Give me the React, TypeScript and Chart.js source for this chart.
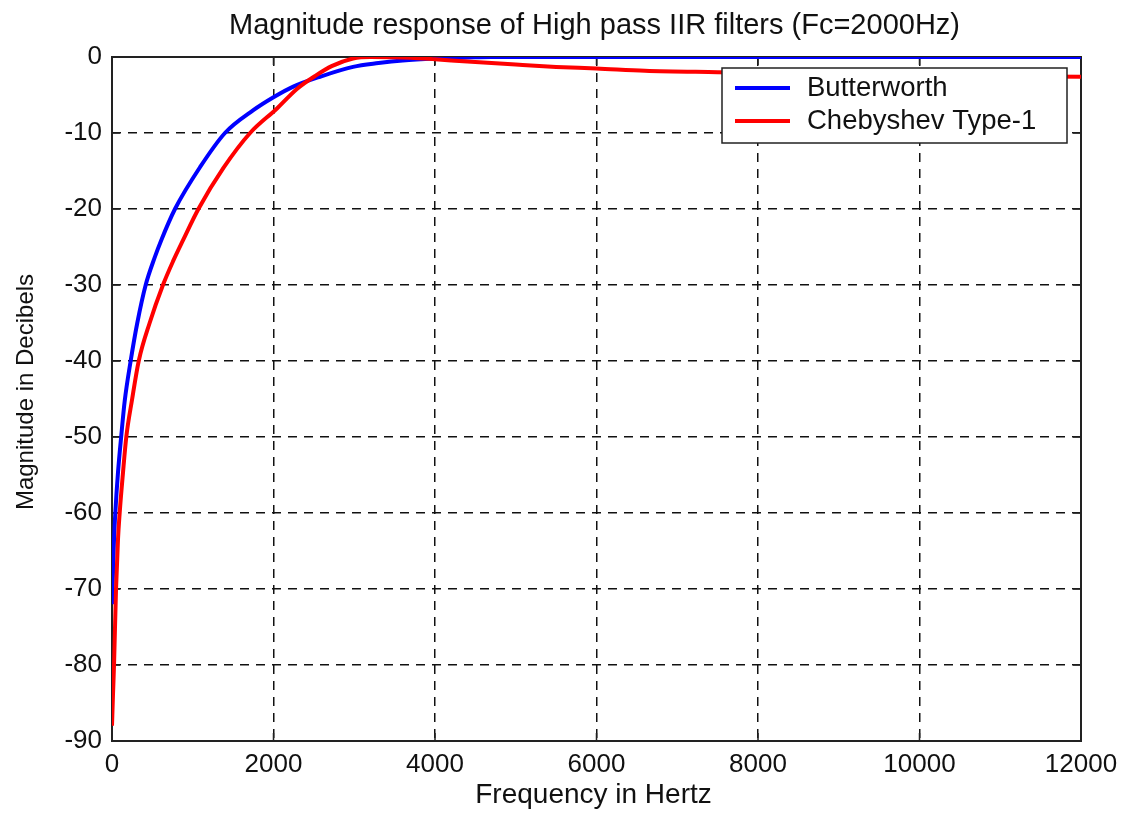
import React, { useEffect, useRef } from "react";
import { Chart, registerables } from "chart.js";

Chart.register(...registerables);

const titleText = "Magnitude response of High pass IIR filters (Fc=2000Hz)";
const xTitle = "Frequency in Hertz";
const yTitle = "Magnitude in Decibels";
const seriesNames = ["Butterworth", "Chebyshev Type-1"];
const seriesColors = ["#0000ff", "#ff0000"];

const xTicks = [0, 2000, 4000, 6000, 8000, 10000, 12000];
const yTicks = [-90, -80, -70, -60, -50, -40, -30, -20, -10, 0];

const butterFreq = [0, 12, 25, 41, 74, 116, 157, 231, 313, 417, 528, 610, 780, 1090, 1399, 1750, 2000, 2245, 2575, 2985, 3300, 3600, 4000, 4400, 4700, 6000, 8000, 10000, 12000];
const butterDb = [-72, -68, -63.5, -60, -54.7, -49.7, -45.3, -40, -35, -30, -26.4, -24.1, -20, -14.5, -10, -7.0, -5.3, -3.9, -2.6, -1.3, -0.8, -0.45, -0.2, -0.07, 0, 0, 0, 0, 0];

const chebyFreq = [0, 12, 25, 50, 74, 95, 136, 177, 248, 331, 466, 631, 755, 880, 1070, 1380, 1710, 2040, 2290, 2515, 2720, 2985, 3200, 3700, 4000, 4400, 5000, 5500, 6000, 6600, 7500, 9000, 10500, 12000];
const chebyDb = [-88, -84, -80, -70, -63.5, -60, -54.7, -50, -45.1, -40, -35, -30, -26.9, -24.1, -20, -14.6, -10, -6.8, -4.2, -2.5, -1.2, -0.2, 0, -0.1, -0.3, -0.6, -1.0, -1.3, -1.5, -1.8, -2.0, -2.3, -2.5, -2.6];

const FONT = "'Liberation Sans', Arial, Helvetica, sans-serif";

const framePlugin = {
  id: "matlabFrame",
  beforeDatasetsDraw(chart: any) {
    const { ctx, chartArea, scales } = chart;
    const { left, right, top, bottom } = chartArea;
    ctx.save();
    ctx.strokeStyle = "#222";
    ctx.lineWidth = 2;
    ctx.strokeRect(left, top, right - left, bottom - top);
    ctx.lineWidth = 1.5;
    ctx.beginPath();
    for (const v of xTicks) {
      const px = scales.x.getPixelForValue(v);
      ctx.moveTo(px, bottom);
      ctx.lineTo(px, bottom - 8);
      ctx.moveTo(px, top);
      ctx.lineTo(px, top + 8);
    }
    for (const v of yTicks) {
      const py = scales.y.getPixelForValue(v);
      ctx.moveTo(left, py);
      ctx.lineTo(left + 8, py);
      ctx.moveTo(right, py);
      ctx.lineTo(right - 8, py);
    }
    ctx.stroke();
    ctx.restore();
  },
  afterDraw(chart: any) {
    const { ctx, chartArea } = chart;
    const { left, right, top, bottom } = chartArea;
    const cx = (left + right) / 2;
    ctx.save();
    ctx.fillStyle = "#111";
    ctx.textAlign = "center";
    ctx.textBaseline = "alphabetic";
    ctx.font = `29px ${FONT}`;
    ctx.fillText(titleText, cx - 2, top - 23);
    ctx.font = `28px ${FONT}`;
    ctx.fillText(xTitle, cx - 3, bottom + 62);
    ctx.save();
    ctx.translate(left - 79, (top + bottom) / 2 - 7);
    ctx.rotate(-Math.PI / 2);
    ctx.font = `24px ${FONT}`;
    ctx.fillText(yTitle, 0, 0);
    ctx.restore();

    // legend
    const bw = 345;
    const bh = 75;
    const bx = right - 14 - bw;
    const by = top + 11;
    ctx.fillStyle = "#ffffff";
    ctx.fillRect(bx, by, bw, bh);
    ctx.strokeStyle = "#222";
    ctx.lineWidth = 1.5;
    ctx.strokeRect(bx, by, bw, bh);
    ctx.font = `27.5px ${FONT}`;
    ctx.textAlign = "left";
    ctx.textBaseline = "middle";
    chart.data.datasets.forEach((ds: any, i: number) => {
      const ly = by + 20 + i * 33;
      ctx.strokeStyle = ds.borderColor;
      ctx.lineWidth = 4;
      ctx.beginPath();
      ctx.moveTo(bx + 13, ly);
      ctx.lineTo(bx + 68, ly);
      ctx.stroke();
      ctx.fillStyle = "#111";
      ctx.fillText(ds.label, bx + 85, ly);
    });
    ctx.restore();
  },
};

export default function App() {
  const canvasRef = useRef<HTMLCanvasElement | null>(null);

  useEffect(() => {
    const canvas = canvasRef.current;
    if (!canvas) return;
    const makePts = (fs: number[], ds: number[]) => fs.map((f, i) => ({ x: f, y: ds[i] }));
    const chart = new Chart(canvas, {
      type: "scatter",
      data: {
        datasets: [
          {
            label: seriesNames[0],
            data: makePts(butterFreq, butterDb),
            borderColor: seriesColors[0],
            backgroundColor: seriesColors[0],
            borderWidth: 4,
            showLine: true,
            pointRadius: 0,
            cubicInterpolationMode: "monotone",
            order: 1,
          },
          {
            label: seriesNames[1],
            data: makePts(chebyFreq, chebyDb),
            borderColor: seriesColors[1],
            backgroundColor: seriesColors[1],
            borderWidth: 4,
            showLine: true,
            pointRadius: 0,
            cubicInterpolationMode: "monotone",
            order: 0,
          },
        ],
      } as any,
      options: {
        responsive: false,
        animation: false,
        devicePixelRatio: 1,
        layout: { padding: { top: 57, right: 46, left: 0, bottom: 0 } },
        plugins: {
          legend: { display: false },
          title: { display: false },
          tooltip: { enabled: false },
        },
        scales: {
          x: {
            type: "linear",
            min: 0,
            max: 12000,
            afterBuildTicks: (s: any) => {
              s.ticks = xTicks.map((v) => ({ value: v }));
            },
            afterFit: (s: any) => {
              s.height = 73;
            },
            ticks: {
              padding: 8,
              color: "#111",
              font: { family: FONT, size: 26 },
              callback: (v: any) => String(v),
              maxRotation: 0,
            },
            grid: { color: "#111", lineWidth: 1.5, drawTicks: false },
            border: { display: false, dash: [9, 7] },
          },
          y: {
            type: "linear",
            min: -90,
            max: 0,
            afterBuildTicks: (s: any) => {
              s.ticks = yTicks.map((v) => ({ value: v }));
            },
            afterFit: (s: any) => {
              s.width = 112;
            },
            ticks: {
              padding: 10,
              color: "#111",
              font: { family: FONT, size: 26 },
              callback: (v: any) => String(v),
            },
            grid: { color: "#111", lineWidth: 1.5, drawTicks: false },
            border: { display: false, dash: [9, 7] },
          },
        },
      } as any,
      plugins: [framePlugin],
    });
    return () => chart.destroy();
  }, []);

  return (
    <div style={{ position: "absolute", left: 0, top: 0, width: 1127, height: 814, background: "#fff" }}>
      <canvas ref={canvasRef} width={1127} height={814} style={{ display: "block" }} />
    </div>
  );
}
